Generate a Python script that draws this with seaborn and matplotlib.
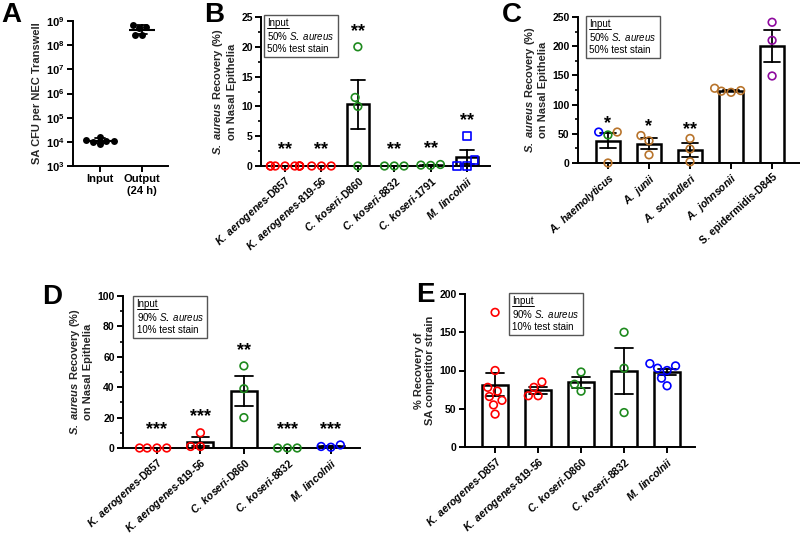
import pandas as pd
import matplotlib
matplotlib.use("Agg")
import matplotlib.pyplot as plt
import matplotlib.transforms as mtransforms
from matplotlib.ticker import MultipleLocator, LogLocator, NullLocator
from matplotlib.lines import Line2D
import seaborn as sns

RED, GREEN, BLUE, BROWN, PURPLE = "#ff0000", "#1e8a1e", "#0000ff", "#b8742c", "#8e0a9e"

# ---- A: SA CFU per transwell
a_groups = ["Input", "Output\n(24 h)"]
a_input = [1.6e4, 8.0e3, 1.15e4, 1.0e4, 1.1e4, 1.1e4]
a_output = [5.7e8, 7.0e8, 5.0e8, 2.7e8, 2.7e8]

# ---- B: 50/50 competition
b_strains = [r"$\mathbf{K.\ aerogenes}$-D857", r"$\mathbf{K.\ aerogenes}$-819-56",
             r"$\mathbf{C.\ koseri}$-D860", r"$\mathbf{C.\ koseri}$-8832",
             r"$\mathbf{C.\ koseri}$-1791", r"$\mathbf{M.\ lincolnii}$"]
b_values = [[0, 0, 0, 0, 0, 0, 0, 0], [0, 0, 0], [20, 11.5, 10, 0],
            [0, 0, 0], [0.1, 0.25, 0.15], [5, 1, 0, 0]]
b_colors = [RED, RED, GREEN, GREEN, GREEN, BLUE]
b_markers = ["o", "o", "o", "o", "o", "s"]
b_stars = ["**", "**", "**", "**", "**", "**"]

# ---- C: 50/50 competition, Acinetobacter
c_strains = [r"$\mathbf{A.\ haemolyticus}$", r"$\mathbf{A.\ junii}$", r"$\mathbf{A.\ schindleri}$",
             r"$\mathbf{A.\ johnsonii}$", "S. epidermidis-D845"]
c_values = [[53, 48, 53, 0], [47, 38, 14], [42, 24, 2], [128, 124, 123, 121], [241, 210, 149]]
c_colors = [[BLUE, GREEN, BROWN, BROWN], BROWN, BROWN, BROWN, PURPLE]
c_stars = ["*", "*", "**", "", ""]

# ---- D: 90/10 competition, SA recovery
d_strains = [r"$\mathbf{K.\ aerogenes}$-D857", r"$\mathbf{K.\ aerogenes}$-819-56",
             r"$\mathbf{C.\ koseri}$-D860", r"$\mathbf{C.\ koseri}$-8832", r"$\mathbf{M.\ lincolnii}$"]
d_values = [[0, 0, 0, 0], [10, 1, 1], [54, 39, 20], [0, 0, 0], [0.5, 2, 1]]
d_colors = [RED, RED, GREEN, GREEN, BLUE]
d_stars = ["***", "***", "**", "***", "***"]

# ---- E: 90/10 competition, competitor recovery
e_strains = d_strains
e_values = [[176, 100, 78, 73, 66, 61, 55, 43], [85, 78, 67, 67], [98, 82, 73],
            [150, 103, 45], [103, 106, 109, 100, 90, 80]]
e_colors = [RED, RED, GREEN, GREEN, BLUE]

sns.set_style("ticks")
plt.rcParams.update({
    "font.family": ["Liberation Sans", "DejaVu Sans"],
    "font.weight": "bold",
    "axes.labelweight": "bold",
    "mathtext.fontset": "custom",
    "mathtext.rm": "Liberation Sans:weight=bold",
    "mathtext.it": "Liberation Sans:style=italic:weight=normal",
    "mathtext.bf": "Liberation Sans:style=italic:weight=bold",
    "axes.linewidth": 1.4,
    "axes.edgecolor": "black",
    "xtick.color": "black",
    "ytick.color": "black",
    "text.color": "black",
})

W, H = 800, 545
fig = plt.figure(figsize=(W / 100, H / 100), dpi=100)


def add_ax(left, top, right, bottom):
    return fig.add_axes([left / W, 1 - bottom / H, (right - left) / W, (bottom - top) / H])


def make_frame(strains, values, colors, markers=None):
    rows = []
    for i, (s, vals) in enumerate(zip(strains, values)):
        cols = colors[i] if isinstance(colors[i], list) else [colors[i]] * len(vals)
        mk = markers[i] if markers else "o"
        for v, c in zip(vals, cols):
            rows.append({"strain": s, "value": v, "color": c, "marker": mk})
    return pd.DataFrame(rows)


def style_axes(ax, xlim, labelsize=7.5):
    sns.despine(ax=ax)
    ax.tick_params(which="major", length=4, width=1.4, labelsize=labelsize, pad=2)
    ax.tick_params(which="minor", length=2.5, width=1.2)
    ax.set_xlabel("")
    ax.set_xlim(*xlim)


def rotate_labels(ax):
    for lab in ax.get_xticklabels():
        lab.set_rotation(42)
        lab.set_ha("right")
        lab.set_rotation_mode("anchor")


def bar_panel(ax, df, order):
    sns.barplot(data=df, x="strain", y="value", order=order, errorbar="se", capsize=0.4,
                width=0.6, color="white", edgecolor="black", linewidth=1.8,
                err_kws={"color": "black", "linewidth": 1.3}, ax=ax)
    for mk, sub in df.groupby("marker"):
        sns.swarmplot(data=sub, x="strain", y="value", order=order, hue="color",
                      palette={c: c for c in sub["color"].unique()}, marker=mk, size=5.5,
                      legend=False, warn_thresh=1, ax=ax)
    for coll in ax.collections:
        fc = coll.get_facecolors()
        coll.set_edgecolors(fc)
        coll.set_facecolors("none")
        coll.set_linewidth(1.2)
        coll.set_clip_on(False)
        coll.set_zorder(4)


def add_stars(ax, values, stars, pad, floor):
    tr = mtransforms.offset_copy(ax.transData, fig=fig, y=-4, units="dots")
    for i, (vals, s) in enumerate(zip(values, stars)):
        if s:
            y = max(max(vals) + pad, floor)
            ax.text(i, y, s, ha="center", va="center", fontsize=13, fontweight="bold", transform=tr)


boxes = []


def input_box(ax, x, y, pct):
    t = ax.text(x, y, "Input\n" + pct[0] + r"% $\mathit{S.\ aureus}$" + "\n" + pct[1] + "% test stain",
                transform=ax.transAxes, ha="left", va="top", fontsize=7, fontweight="normal",
                linespacing=1.2, zorder=5,
                bbox=dict(boxstyle="square,pad=0.35", fc="white", ec="#555555", lw=1.0))
    boxes.append(t)


# ---------------- A
axA = add_ax(73, 21, 168, 166)
axA.set_yscale("log")
df_a = pd.DataFrame({"group": [a_groups[0]] * len(a_input) + [a_groups[1]] * len(a_output),
                     "cfu": a_input + a_output})
sns.swarmplot(data=df_a, x="group", y="cfu", order=a_groups, color="black", size=5, ax=axA)
sns.pointplot(data=df_a, x="group", y="cfu", order=a_groups, errorbar="sd", color="black",
              markers="_", markersize=19, markeredgewidth=1.5, linestyle="none", capsize=0.25,
              err_kws={"linewidth": 1.3}, ax=axA)
for coll in axA.collections:
    coll.set_clip_on(False)
axA.set_ylim(1e3, 1e9)
axA.yaxis.set_major_locator(LogLocator(base=10, numticks=10))
axA.yaxis.set_minor_locator(NullLocator())
style_axes(axA, (-0.64, 1.62), labelsize=8)
axA.set_ylabel("SA CFU per NEC Transwell", fontsize=8, labelpad=3)

# ---------------- B
axB = add_ax(261, 17, 490, 166)
bar_panel(axB, make_frame(b_strains, b_values, b_colors, b_markers), b_strains)
axB.set_ylim(0, 25)
axB.yaxis.set_major_locator(MultipleLocator(5))
axB.yaxis.set_minor_locator(MultipleLocator(2.5))
style_axes(axB, (-0.66, 5.63))
rotate_labels(axB)
axB.set_ylabel(r"$\mathbf{S.\ aureus}$ Recovery (%)" + "\non Nasal Epithelia", fontsize=8, labelpad=3)
add_stars(axB, b_values, b_stars, 3.3, 3.5)
input_box(axB, 0.028, 0.99, ("50", "50"))

# ---------------- C
axC = add_ax(578, 17, 800, 163)
bar_panel(axC, make_frame(c_strains, c_values, c_colors), c_strains)
axC.set_ylim(0, 250)
axC.yaxis.set_major_locator(MultipleLocator(50))
axC.yaxis.set_minor_locator(MultipleLocator(25))
style_axes(axC, (-0.73, 4.68))
rotate_labels(axC)
axC.set_ylabel(r"$\mathbf{S.\ aureus}$ Recovery (%)" + "\non Nasal Epithelia", fontsize=8, labelpad=3)
add_stars(axC, c_values, c_stars, 22, 0)
input_box(axC, 0.051, 0.984, ("50", "50"))

# ---------------- D
axD = add_ax(123, 296, 360, 448)
bar_panel(axD, make_frame(d_strains, d_values, d_colors), d_strains)
axD.set_ylim(0, 100)
axD.yaxis.set_major_locator(MultipleLocator(20))
axD.yaxis.set_minor_locator(MultipleLocator(10))
style_axes(axD, (-0.78, 4.67))
rotate_labels(axD)
axD.set_ylabel(r"$\mathbf{S.\ aureus}$ Recovery (%)" + "\non Nasal Epithelia", fontsize=8, labelpad=3)
add_stars(axD, d_values, d_stars, 13, 15)
input_box(axD, 0.057, 0.978, ("90", "10"))

# ---------------- E
axE = add_ax(465, 294, 695, 447)
bar_panel(axE, make_frame(e_strains, e_values, e_colors), e_strains)
axE.set_ylim(0, 200)
axE.yaxis.set_major_locator(MultipleLocator(50))
style_axes(axE, (-0.7, 4.65))
rotate_labels(axE)
axE.set_ylabel("% Recovery of\nSA competitor strain", fontsize=8, labelpad=3)
input_box(axE, 0.206, 0.984, ("90", "10"))

# panel letters
for letter, (px, py) in {"A": (1, 2), "B": (204, 2), "C": (502, 2), "D": (42, 284), "E": (416, 282)}.items():
    fig.text(px / W, 1 - py / H, letter, fontsize=20, fontweight="bold", ha="left", va="top")

# underline "Input" in each box
fig.canvas.draw()
renderer = fig.canvas.get_renderer()
for t in boxes:
    bb = t.get_window_extent(renderer)
    w, h, d = renderer.get_text_width_height_descent("Input", t.get_fontproperties(), ismath=False)
    _, hl, dl = renderer.get_text_width_height_descent("lp", t.get_fontproperties(), ismath=False)
    y = bb.y1 - (hl - dl) - 1.5
    fig.add_artist(Line2D([bb.x0, bb.x0 + w], [y, y], transform=mtransforms.IdentityTransform(),
                          color="black", lw=0.7, zorder=10))

fig.savefig("out.png", dpi=100)
